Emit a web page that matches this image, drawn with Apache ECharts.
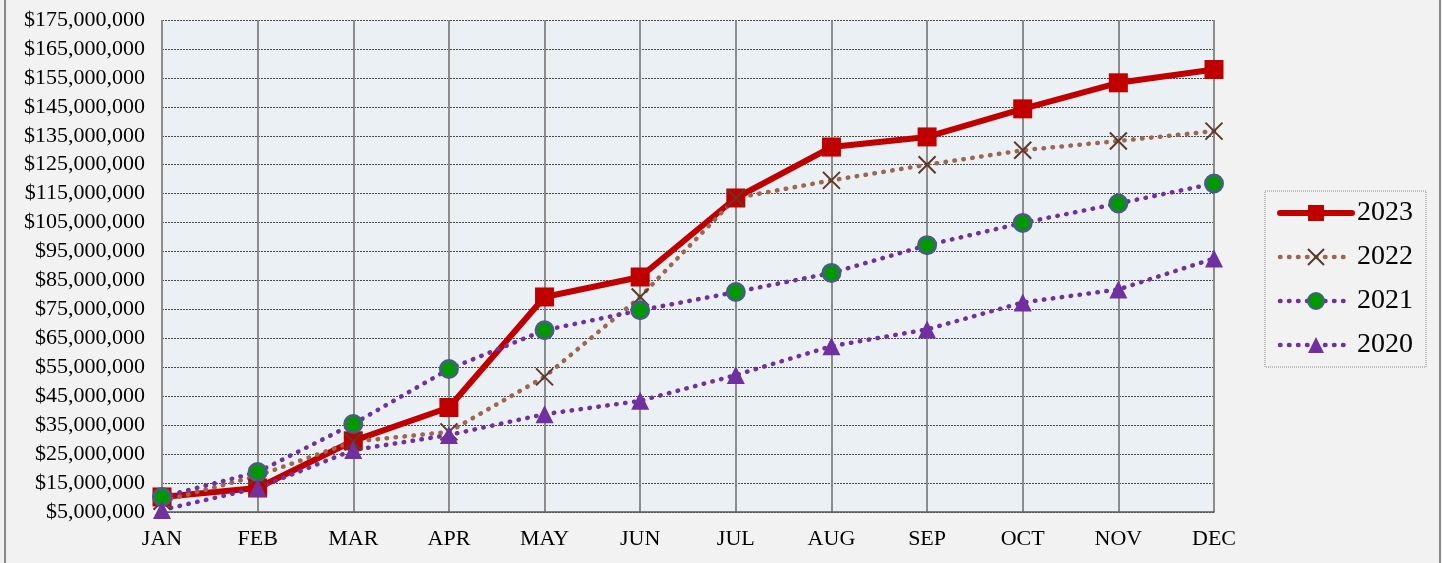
<!DOCTYPE html>
<html>
<head>
<meta charset="utf-8">
<script src="https://cdn.jsdelivr.net/npm/echarts@6/dist/echarts.min.js"></script>
<style>
html,body{margin:0;padding:0;background:#F2F2F2;}
#wrap{position:relative;width:1442px;height:563px;}
#chart{position:absolute;left:0;top:0;width:1442px;height:563px;}
.bl{position:absolute;top:0;width:2px;height:563px;background:#8a8a8a;}
</style>
</head>
<body>
<div id="wrap">
<div id="chart"></div>
<div class="bl" style="left:4px"></div>
<div class="bl" style="left:1439px"></div>
</div>
<script>
const months = ['JAN','FEB','MAR','APR','MAY','JUN','JUL','AUG','SEP','OCT','NOV','DEC'];
const seriesNames = ['2023','2022','2021','2020'];
const v2023 = [10200000, 13300000, 29600000, 41100000, 79300000, 86200000, 113500000, 131100000, 134600000, 144300000, 153300000, 157900000];
const v2022 = [8700000, 17500000, 29300000, 32700000, 51700000, 79300000, 113500000, 119600000, 125000000, 130000000, 133200000, 136600000];
const v2021 = [10200000, 18800000, 35400000, 54400000, 67800000, 74700000, 81000000, 87600000, 97200000, 104900000, 111600000, 118500000];
const v2020 = [5700000, 13300000, 26400000, 31600000, 38800000, 43400000, 52300000, 62300000, 68100000, 77400000, 81900000, 92600000];
const yMin = 5000000, yMax = 175000000, yStep = 5000000;

const FONT = '"Liberation Serif", "Times New Roman", serif';
const dots = [0.5, 8.5];
const DOTW = 4.5;

const chart = echarts.init(document.getElementById('chart'), null, {renderer: 'canvas'});
chart.setOption({
  backgroundColor: '#F2F2F2',
  animation: false,
  grid: {left: 162, right: 228, top: 20, bottom: 51, show: true, backgroundColor: '#EBF0F5', borderWidth: 0},
  legend: {
    orient: 'vertical', left: 1265, top: 191,
    padding: [8, 13, 8, 12], itemGap: 16, itemWidth: 72, itemHeight: 20,
    borderColor: '#8c8c8c', borderWidth: 1, borderType: 'dotted',
    textStyle: {fontFamily: FONT, fontSize: 28, color: '#000', lineHeight: 28},
    data: [
      {name: '2023', lineStyle: {width: 6, cap: 'round'}},
      {name: '2022', lineStyle: {width: DOTW, type: dots, cap: 'round'}},
      {name: '2021', lineStyle: {width: DOTW, type: dots, cap: 'round'}},
      {name: '2020', lineStyle: {width: DOTW, type: dots, cap: 'round'}}
    ]
  },
  xAxis: {
    type: 'category', data: months, boundaryGap: false,
    axisLine: {lineStyle: {color: '#595959', width: 1.5}},
    axisTick: {show: false},
    axisLabel: {fontFamily: FONT, fontSize: 22, color: '#000', margin: 16},
    splitLine: {show: true, lineStyle: {color: '#8c8c8c', width: 2}}
  },
  yAxis: {
    type: 'value', min: yMin, max: yMax, interval: yStep,
    axisLine: {show: false}, axisTick: {show: false},
    axisLabel: {
      fontFamily: FONT, fontSize: 22, color: '#000', margin: 17,
      formatter: v => (Math.round(v / yStep) % 2 === 1) ? '$' + v.toLocaleString('en-US') : ''
    },
    splitLine: {show: true, lineStyle: {color: ['#4a4a4a', 'rgba(0,0,0,0)'], width: 1, type: [2, 1]}}
  },
  series: [
    {
      name: '2023', type: 'line', data: v2023, symbol: 'rect', symbolSize: 19,
      lineStyle: {color: '#C00000', width: 6, cap: 'round', join: 'round'},
      itemStyle: {color: '#C00000'}
    },
    {
      name: '2022', type: 'line', data: v2022, symbol: 'path://M0,0L10,10M10,0L0,10', symbolSize: 17,
      lineStyle: {color: '#9C6650', width: DOTW, type: dots, cap: 'round'},
      itemStyle: {color: 'rgba(0,0,0,0)', borderColor: '#5B3A29', borderWidth: 2}
    },
    {
      name: '2021', type: 'line', data: v2021, symbol: 'circle', symbolSize: 17,
      lineStyle: {color: '#7030A0', width: DOTW, type: dots, cap: 'round'},
      itemStyle: {color: '#009A00', borderColor: '#44607A', borderWidth: 3}
    },
    {
      name: '2020', type: 'line', data: v2020, symbol: 'triangle', symbolSize: 18,
      lineStyle: {color: '#7030A0', width: DOTW, type: dots, cap: 'round'},
      itemStyle: {color: '#7030A0'}
    }
  ]
});
</script>
</body>
</html>
